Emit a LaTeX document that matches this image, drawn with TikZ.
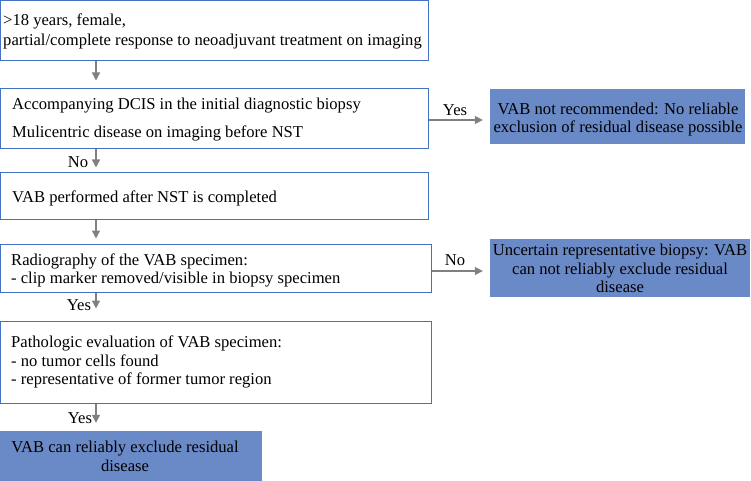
\documentclass[tikz,border=0pt]{standalone}
\usepackage{fontspec}
\setmainfont{Liberation Serif}
\usetikzlibrary{arrows.meta,fit}
\definecolor{boxline}{RGB}{68,114,196}
\definecolor{boxfill}{RGB}{106,137,199}
\definecolor{arrgray}{RGB}{128,128,128}
\tikzset{
  wbox/.style={draw=boxline, line width=1pt, fill=white, inner sep=0pt},
  fbox/.style={fill=boxfill, draw=none, inner sep=0pt},
  arr/.style={draw=arrgray, line width=1.4pt, -{Triangle[width=8pt,length=8pt]}},
  txt/.style={inner sep=0pt, anchor=base west, font=\fontsize{16.6}{19}\selectfont},
  ctxt/.style={inner sep=0pt, anchor=base, font=\fontsize{16.6}{19}\selectfont},
  lbl/.style={inner sep=0pt, anchor=center, font=\fontsize{16.6}{19}\selectfont}
}
\begin{document}
\begin{tikzpicture}[x=1pt,y=-1pt]
\useasboundingbox (0,0) rectangle (751,481);
% boxes
\node[wbox, fit={(0.5,0.5) (428,61)}] (b1) {};
\node[wbox, fit={(0.5,89) (428,149)}] (b2) {};
\node[wbox, fit={(0.5,172) (428,219)}] (b3) {};
\node[wbox, fit={(0.5,244) (431,292)}] (b4) {};
\node[wbox, fit={(0.5,321) (431,403)}] (b5) {};
\node[fbox, fit={(0,431) (262,481)}] (b6) {};
\node[fbox, fit={(490,89) (745,144)}] (r1) {};
\node[fbox, fit={(490,239) (750,297)}] (r2) {};
% texts
\node[txt] (t1a) at (3,26) {>18 years, female,};
\node[txt] (t1b) at (3,46) {partial/complete response to neoadjuvant treatment on imaging};
\node[txt] (t2a) at (12,110) {Accompanying DCIS in the initial diagnostic biopsy};
\node[txt] (t2b) at (12,138) {Mulicentric disease on imaging before NST};
\node[txt] (t3) at (12,202) {VAB performed after NST is completed};
\node[txt] (t4a) at (11,265) {Radiography of the VAB specimen:};
\node[txt] (t4b) at (11,283) {- clip marker removed/visible in biopsy specimen};
\node[txt] (t5a) at (11,347) {Pathologic evaluation of VAB specimen:};
\node[txt] (t5b) at (11,366) {- no tumor cells found};
\node[txt] (t5c) at (11,384) {- representative of former tumor region};
\node[ctxt] (t6a) at (125,452) {VAB can reliably exclude residual};
\node[ctxt] (t6b) at (125,471) {disease};
\node[ctxt] (tr1a) at (618,115) {VAB not recommended: No reliable};
\node[ctxt] (tr1b) at (618,133) {exclusion of residual disease possible};
\node[ctxt] (tr2a) at (620,255) {Uncertain representative biopsy: VAB};
\node[ctxt] (tr2b) at (620,274) {can not reliably exclude residual};
\node[ctxt] (tr2c) at (620,292) {disease};
% connectors
\coordinate (ax) at (96,0);
\draw[arr, shorten >=8pt] (b1.south -| ax) -- (b2.north -| ax);
\draw[arr, shorten >=4pt] (b2.south -| ax) -- (b3.north -| ax);
\draw[arr, shorten >=5pt] (b3.south -| ax) -- (b4.north -| ax);
\draw[arr, shorten >=12pt] (b4.south -| ax) -- (b5.north -| ax);
\draw[arr, shorten >=8pt] (b5.south -| ax) -- (b6.north -| ax);
\coordinate (ay1) at (0,120);
\coordinate (ay2) at (0,271);
\draw[arr, shorten >=7pt] (b2.east |- ay1) -- (r1.west |- ay1);
\draw[arr, shorten >=7pt] (b4.east |- ay2) -- (r2.west |- ay2);
% labels
\node[lbl] (lno1) at (78,162) {No};
\node[lbl] (lyes1) at (79,305) {Yes};
\node[lbl] (lyes2) at (80,418) {Yes};
\node[lbl] (lyes3) at (455,110) {Yes};
\node[lbl] (lno2) at (455,260) {No};
\end{tikzpicture}
\end{document}
